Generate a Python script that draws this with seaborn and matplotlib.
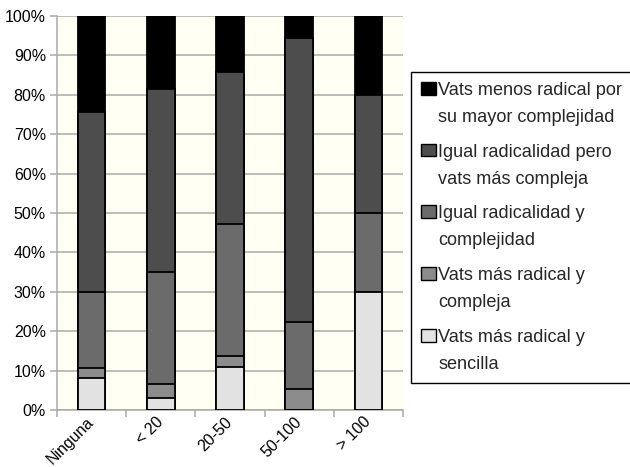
import numpy as np
import pandas as pd
import matplotlib
matplotlib.use('Agg')
import matplotlib.pyplot as plt
import seaborn as sns
from matplotlib.patches import Patch

categories = ['Ninguna', '< 20', '20-50', '50-100', '> 100']
mas_radical_sencilla = [8.0, 3.0, 11.0, 0.0, 30.0]
mas_radical_compleja = [2.7, 3.6, 2.8, 5.3, 0.0]
igual_radicalidad_complejidad = [19.2, 28.4, 33.3, 17.1, 20.0]
igual_radicalidad_mas_compleja = [45.7, 46.5, 38.8, 72.1, 30.0]
menos_radical = [24.4, 18.5, 14.1, 5.5, 20.0]

# bottom -> top
series_labels = ['Vats más radical y\nsencilla',
                 'Vats más radical y\ncompleja',
                 'Igual radicalidad y\ncomplejidad',
                 'Igual radicalidad pero\nvats más compleja',
                 'Vats menos radical por\nsu mayor complejidad']
series_colors = ['#e2e2e2', '#8c8c8c', '#6b6b6b', '#4d4d4d', '#000000']
ytick_vals = list(range(0, 101, 10))

sns.set_theme(style='white')
plt.rcParams['font.family'] = ['Liberation Sans', 'DejaVu Sans']

fig = plt.figure(figsize=(6.3, 4.67), dpi=100)
ax = fig.add_axes([57 / 630, 1 - 410 / 467, (403 - 57) / 630, (410 - 16) / 467])
ax.set_facecolor('#fffff3')

stack = np.array([mas_radical_sencilla, mas_radical_compleja,
                  igual_radicalidad_complejidad, igual_radicalidad_mas_compleja,
                  menos_radical])
cum = np.cumsum(stack, axis=0)

for i in reversed(range(len(series_labels))):
    df = pd.DataFrame({'cat': categories, 'val': cum[i]})
    sns.barplot(data=df, x='cat', y='val', order=categories, color=series_colors[i],
                saturation=1, edgecolor='black', linewidth=1.3, width=0.4,
                errorbar=None, ax=ax, zorder=3)

ax.set_xlim(-0.5, len(categories) - 0.5)
ax.set_ylim(0, 100)
ax.set_xlabel('')
ax.set_ylabel('')
ax.set_yticks(ytick_vals)
ax.set_yticklabels([f'{v}%' for v in ytick_vals])
ax.yaxis.grid(True, color='#a9a9a9', linewidth=1.1, zorder=0)
ax.set_axisbelow(True)

gray = '#a9a9a9'
for s in ['top', 'right']:
    ax.spines[s].set_visible(False)
for s in ['left', 'bottom']:
    ax.spines[s].set_color(gray)
    ax.spines[s].set_linewidth(1.1)

ax.set_xticks(range(len(categories)))
ax.set_xticklabels(categories, rotation=45, ha='right', va='center', rotation_mode='anchor')
ax.set_xticks(np.arange(-0.5, len(categories), 1.0), minor=True)
ax.tick_params(axis='x', which='major', length=0, pad=7, labelsize=11.5, colors='black')
ax.tick_params(axis='x', which='minor', length=5, width=1.1, color=gray, direction='out', bottom=True)
ax.tick_params(axis='y', which='major', length=5, width=1.1, color=gray, pad=3, labelsize=11.5,
               left=True, labelcolor='black')

handles = [Patch(facecolor=c, edgecolor='black', linewidth=1.0) for c in series_colors][::-1]
labels = series_labels[::-1]
leg = fig.legend(handles, labels, loc='upper left', bbox_to_anchor=(411 / 630, 1 - 72 / 467),
                 bbox_transform=fig.transFigure, fontsize=13.1, frameon=True, fancybox=False,
                 edgecolor='black', framealpha=1, handlelength=0.8, handleheight=0.7,
                 handletextpad=0.15, labelspacing=0.98, borderpad=0.55, borderaxespad=0)
leg.get_frame().set_linewidth(1.0)
for t in leg.get_texts():
    t.set_linespacing(1.76)
for col in leg._legend_handle_box.get_children():
    for row in col.get_children():
        row.align = 'top'

fig.savefig('out.png', dpi=100)
